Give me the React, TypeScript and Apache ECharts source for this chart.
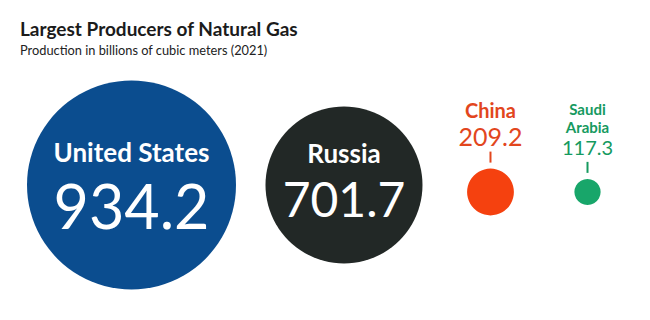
import React, { useEffect, useRef } from "react";
import * as echarts from "echarts";

// ---- data ----
const countries = ["United States", "Russia", "China", "Saudi Arabia"];
const labelLines = [["United States"], ["Russia"], ["China"], ["Saudi", "Arabia"]];
const production = [934.2, 701.7, 209.2, 117.3];
const titleText = "Largest Producers of Natural Gas";
const subtitleText = "Production in billions of cubic meters (2021)";

// ---- styles / layout ----
const FONT = "Lato, 'Noto Sans', sans-serif";
const circleColors = ["#0b4d8f", "#222826", "#f5410f", "#18a66a"];
const textColors = ["#ffffff", "#ffffff", "#e2461d", "#169a5f"];
const PX_PER_UNIT = 104.5 / 934.2; // radius in px per bcm
const LEFT_EDGE = 27;
const GAPS = [29.5, 44.6, 60.5];
const CENTER_Y = 185;
const OUTSIDE_SHIFT = 7;
const TICK_LEN = 11;
const TICK_GAP = 6;
const INSIDE_MIN_R = 50;

type LabelCfg = { n: number; v: number; ln: number; lv: number; d: number };
const insideCfg: LabelCfg[] = [
  { n: 26, v: 61, ln: 41, lv: 66, d: 0 },
  { n: 26, v: 48, ln: 27, lv: 65, d: 0 },
];
const outsideCfg: Record<number, LabelCfg> = {
  2: { n: 20, v: 25, ln: 25, lv: 26, d: 3 },
  3: { n: 15, v: 20, ln: 18, lv: 23, d: 3 },
};

export default function App() {
  const ref = useRef<HTMLDivElement>(null);
  useEffect(() => {
    if (!ref.current) return;
    const chart = echarts.init(ref.current, undefined, { renderer: "svg" });

    const radii = production.map((v) => v * PX_PER_UNIT);
    const xs: number[] = [];
    radii.forEach((r, i) => {
      if (i === 0) xs.push(LEFT_EDGE + r);
      else xs.push(xs[i - 1] + radii[i - 1] + GAPS[i - 1] + r);
    });
    const ys = radii.map((r) => (r > INSIDE_MIN_R ? CENTER_Y : CENTER_Y + OUTSIDE_SHIFT));

    const circleData = production.map((v, i) => {
      const inside = radii[i] > INSIDE_MIN_R;
      const cfg = insideCfg[i];
      const richText = inside
        ? labelLines[i].map((l) => `{n|${l}}`).join("\n") + `\n{v|${v.toFixed(1)}}`
        : "";
      return {
        name: countries[i],
        value: [xs[i], ys[i]],
        symbolSize: radii[i] * 2,
        itemStyle: { color: circleColors[i], opacity: 1 },
        label: inside
          ? {
              show: true,
              position: "inside",
              formatter: richText,
              rich: {
                n: { fontFamily: FONT, fontSize: cfg.n, fontWeight: "bold", color: textColors[i], lineHeight: cfg.ln, align: "center" },
                v: { fontFamily: FONT, fontSize: cfg.v, fontWeight: "normal", color: textColors[i], lineHeight: cfg.lv, align: "center" },
              },
            }
          : { show: false },
      };
    });

    const tickData = production
      .map((v, i) => ({ v, i }))
      .filter(({ i }) => radii[i] <= INSIDE_MIN_R)
      .map(({ v, i }) => {
        const cfg = outsideCfg[i];
        const richText = labelLines[i].map((l) => `{n|${l}}`).join("\n") + `\n{v|${v.toFixed(1)}}`;
        return {
          name: countries[i],
          value: [xs[i], ys[i] - radii[i] - TICK_GAP - TICK_LEN / 2],
          itemStyle: { color: textColors[i], opacity: 1 },
          label: {
            show: true,
            position: "top",
            distance: cfg.d,
            formatter: richText,
            rich: {
              n: { fontFamily: FONT, fontSize: cfg.n, fontWeight: "bold", color: textColors[i], lineHeight: cfg.ln, align: "center" },
              v: { fontFamily: FONT, fontSize: cfg.v, fontWeight: "normal", color: textColors[i], lineHeight: cfg.lv, align: "center" },
            },
          },
        };
      });

    chart.setOption({
      animation: false,
      title: [
        {
          text: titleText,
          left: 20,
          top: 19,
          padding: 0,
          textStyle: { fontFamily: FONT, fontSize: 19, fontWeight: "bold", color: "#1b1b1b" },
        },
        {
          text: subtitleText,
          left: 20,
          top: 43,
          padding: 0,
          textStyle: { fontFamily: FONT, fontSize: 12.8, fontWeight: "normal", color: "#222222" },
        },
      ],
      grid: { left: 0, right: 0, top: 0, bottom: 0 },
      xAxis: { type: "value", min: 0, max: 650, show: false },
      yAxis: { type: "value", min: 0, max: 320, inverse: true, show: false },
      series: [
        {
          type: "scatter",
          data: circleData,
          silent: true,
          emphasis: { disabled: true },
          itemStyle: { opacity: 1 },
          z: 2,
        },
        {
          type: "scatter",
          symbol: "rect",
          symbolSize: [2, TICK_LEN],
          data: tickData,
          silent: true,
          emphasis: { disabled: true },
          itemStyle: { opacity: 1 },
          z: 3,
        },
      ],
    });
    return () => chart.dispose();
  }, []);
  return (
    <div
      ref={ref}
      style={{ position: "fixed", left: 0, top: 0, width: 650, height: 320, background: "#ffffff" }}
    />
  );
}
